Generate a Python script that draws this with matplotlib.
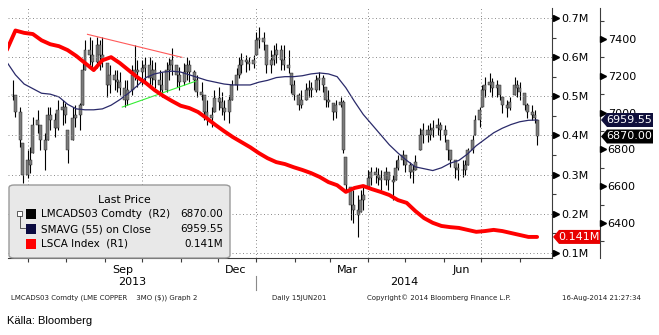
#!/bin/env python
import numpy as np
import pandas as pd
import matplotlib as mpl
mpl.use('Agg')
import matplotlib.pyplot as plt
import matplotlib.dates as mdates
import matplotlib.ticker as mticker
from matplotlib.transforms import blended_transform_factory
from matplotlib.patches import Polygon, FancyBboxPatch, Rectangle

#*******************************************************************************
# LME copper 3M (LMCADS03), every second trading day up to 15 Aug 2014
cu_high = [7175, 7095, 7030, 6835, 6795, 6815, 6975, 7015, 6935, 6890,
           7030, 7030, 7000, 7070, 7070, 7050, 6905, 7030, 7040, 7050,
           7270, 7395, 7410, 7395, 7410, 7395, 7410, 7270, 7260, 7230,
           7230, 7220, 7175, 7175, 7260, 7365, 7285, 7285, 7300, 7300,
           7285, 7275, 7230, 7220, 7275, 7295, 7350, 7260, 7250, 7270,
           7300, 7285, 7230, 7205, 7165, 7095, 7070, 7030, 7125, 7140,
           7110, 7070, 7095, 7175, 7240, 7300, 7325, 7315, 7300, 7315,
           7435, 7465, 7435, 7365, 7340, 7365, 7380, 7365, 7365, 7340,
           7215, 7175, 7105, 7125, 7160, 7175, 7165, 7205, 7220, 7205,
           7140, 7125, 7050, 7070, 7085, 7070, 6760, 6595, 6580, 6550,
           6580, 6595, 6690, 6705, 6705, 6700, 6690, 6705, 6675, 6660,
           6740, 6770, 6795, 6770, 6730, 6715, 6770, 6915, 6945, 6935,
           6945, 6960, 6970, 6950, 6935, 6850, 6795, 6740, 6725, 6740,
           6740, 6810, 6880, 6985, 7030, 7150, 7195, 7215, 7190, 7175,
           7150, 7085, 7070, 7085, 7195, 7175, 7165, 7105, 7050, 7040,
           7015, 6960]
cu_low = [7070, 6975, 6815, 6615, 6645, 6670, 6780, 6890, 6795, 6690,
          6850, 6905, 6865, 6905, 6935, 6945, 6725, 6850, 6920, 6905,
          7040, 7230, 7260, 7230, 7240, 7230, 7250, 7085, 7105, 7125,
          7110, 7095, 7030, 7040, 7095, 7175, 7140, 7150, 7165, 7140,
          7150, 7135, 7095, 7085, 7110, 7175, 7205, 7140, 7125, 7150,
          7175, 7165, 7125, 7085, 7070, 6960, 6935, 6920, 7005, 7015,
          6985, 6960, 6945, 7070, 7125, 7190, 7215, 7220, 7230, 7240,
          7315, 7350, 7340, 7215, 7215, 7260, 7270, 7230, 7230, 7215,
          7105, 7070, 7015, 7025, 7070, 7085, 7085, 7110, 7125, 7110,
          7030, 7030, 6960, 6970, 7030, 6780, 6580, 6415, 6400, 6325,
          6460, 6470, 6595, 6605, 6615, 6605, 6580, 6605, 6580, 6525,
          6635, 6690, 6715, 6675, 6645, 6615, 6690, 6795, 6835, 6840,
          6850, 6865, 6880, 6850, 6840, 6740, 6705, 6645, 6635, 6650,
          6660, 6715, 6780, 6880, 6920, 7030, 7085, 7110, 7085, 7085,
          7070, 7000, 6975, 7015, 7095, 7085, 7070, 7015, 6970, 6960,
          6945, 6825]
cu_close = [7095, 7005, 6850, 6660, 6740, 6715, 6935, 6960, 6850, 6795,
            6985, 6960, 6915, 7015, 7030, 6985, 6795, 6970, 6985, 7040,
            7230, 7340, 7315, 7275, 7365, 7315, 7285, 7150, 7205, 7175,
            7165, 7135, 7070, 7125, 7205, 7230, 7220, 7240, 7260, 7190,
            7230, 7175, 7150, 7125, 7230, 7260, 7285, 7205, 7165, 7220,
            7260, 7220, 7175, 7110, 7095, 7005, 6970, 6985, 7080, 7060,
            7025, 7005, 7070, 7150, 7205, 7260, 7285, 7275, 7265, 7285,
            7395, 7405, 7385, 7260, 7285, 7315, 7340, 7285, 7260, 7240,
            7150, 7095, 7040, 7070, 7125, 7135, 7125, 7175, 7190, 7150,
            7070, 7060, 7005, 7040, 7060, 6795, 6605, 6500, 6470, 6445,
            6525, 6550, 6645, 6675, 6660, 6645, 6635, 6675, 6635, 6625,
            6700, 6740, 6770, 6715, 6675, 6690, 6730, 6880, 6905, 6880,
            6905, 6915, 6935, 6905, 6880, 6795, 6740, 6700, 6690, 6690,
            6715, 6795, 6850, 6960, 7015, 7125, 7150, 7165, 7135, 7150,
            7095, 7040, 7025, 7060, 7150, 7135, 7110, 7040, 7005, 6985,
            6970, 6870.00]

# weekly (Friday) readings: 55 day moving average and LME stocks (LSCA, million t)
sma55 = [7275, 7205, 7155, 7130, 7105, 7100, 7085, 7045, 7020, 7015,
         7015, 7020, 7040, 7070, 7105, 7145, 7190, 7210, 7220, 7225,
         7220, 7205, 7190, 7175, 7165, 7155, 7150, 7150, 7150, 7165,
         7175, 7190, 7195, 7195, 7200, 7210, 7215, 7210, 7195, 7135,
         7060, 6990, 6935, 6880, 6825, 6780, 6740, 6705, 6695, 6685,
         6700, 6725, 6740, 6775, 6820, 6855, 6890, 6915, 6935, 6950,
         6958, 6959.55]
lsca = [0.618, 0.668, 0.662, 0.659, 0.643, 0.633, 0.628, 0.618, 0.603, 0.585,
        0.567, 0.592, 0.600, 0.585, 0.567, 0.549, 0.534, 0.516, 0.501, 0.488,
        0.476, 0.470, 0.460, 0.444, 0.427, 0.411, 0.396, 0.383, 0.370, 0.355,
        0.342, 0.332, 0.327, 0.319, 0.312, 0.304, 0.294, 0.281, 0.273, 0.256,
        0.266, 0.271, 0.263, 0.256, 0.248, 0.235, 0.228, 0.207, 0.189, 0.177,
        0.169, 0.166, 0.164, 0.159, 0.154, 0.156, 0.159, 0.156, 0.151, 0.146,
        0.141, 0.141]

# hand drawn triangle on the price panel
wedge_top = (['2013-08-18', '2013-11-02'], [7425, 7300])
wedge_bottom = (['2013-09-15', '2013-11-13'], [7030, 7170])

month_labels = ['Sep', 'Dec', 'Mar', 'Jun']
month_label_dates = ['2013-09-15', '2013-12-15', '2014-03-15', '2014-06-15']
quarter_dates = ['2013-07-01', '2013-10-01', '2014-01-01', '2014-04-01', '2014-07-01']
r1_ticks = [0.1, 0.2, 0.3, 0.4, 0.5, 0.6, 0.7]

W, H = 659, 335
GRID = dict(color='#8a8a8a', lw=0.7, ls=(0, (1, 2.6)), zorder=0.5)
SPINE = '#3c3c3c'
NAVY = '#2a2a6a'


def dn(d):
    return mdates.date2num(pd.Timestamp(d))


def fx(x):
    return x / W


def fy(y_top):
    return (H - y_top) / H


#*******************************************************************************
def value_tag(fig, axis, value, x0, x1, label, face):
    """ last value flag pointing at the price axis """
    yd = axis.transData.transform((0, value))[1]
    h = 7
    pts = [(x0, yd), (x0 + 6, yd + h), (x1, yd + h), (x1, yd - h), (x0 + 6, yd - h)]
    pts = [(px / W, py / H) for px, py in pts]
    fig.add_artist(Polygon(pts, closed=True, transform=fig.transFigure,
                           fc=face, ec='none', zorder=5))
    fig.text((x0 + 5 + x1) / 2 / W, yd / H, label, color='white', fontsize=8,
             ha='center', va='center', zorder=6)


def arrow_ticks(axis, xpos, values):
    tr = blended_transform_factory(axis.transAxes, axis.transData)
    axis.plot([xpos] * len(values), values, ls='none', marker='>', ms=4.2,
              color='black', transform=tr, clip_on=False, zorder=6)


#*******************************************************************************
def do_plot():
    fig = plt.figure(figsize=(W / 100, H / 100), dpi=100)
    ax = fig.add_axes([fx(8), 77 / H, 544 / W, 250 / H])
    axr = ax.twinx()

    # copper candles
    cu_dates = pd.bdate_range(end='2014-08-15', periods=len(cu_close), freq='2B')
    x = mdates.date2num(cu_dates.to_pydatetime())
    hi = np.array(cu_high, float)
    lo = np.array(cu_low, float)
    cl = np.array(cu_close, float)
    op = np.r_[cl[0], cl[:-1]]
    b_lo = np.maximum(np.minimum(op, cl), lo)
    b_hi = np.minimum(np.maximum(op, cl), hi)
    ax.vlines(x, lo, hi, color='black', lw=0.8, zorder=2)
    ax.bar(x, b_hi - b_lo, bottom=b_lo, width=2.4, color='#7c7c7c',
           edgecolor='#1a1a1a', lw=0.3, zorder=2.1)

    wk = pd.date_range(end='2014-08-15', periods=len(sma55), freq='W-FRI')
    ax.plot(mdates.date2num(wk.to_pydatetime()), sma55, color=NAVY, lw=0.9, zorder=3)

    ax.plot([dn(d) for d in wedge_top[0]], wedge_top[1], color='#ff5a5a', lw=0.8, zorder=3)
    ax.plot([dn(d) for d in wedge_bottom[0]], wedge_bottom[1], color='#33ee33', lw=0.8, zorder=3)

    wk2 = pd.date_range(end='2014-08-15', periods=len(lsca), freq='W-FRI')
    axr.plot(mdates.date2num(wk2.to_pydatetime()), lsca, color='#ff0000', lw=2.8,
             solid_capstyle='round', solid_joinstyle='round', zorder=4)

    # limits and grid
    ax.set_xlim(dn('2013-06-15'), dn('2014-08-27'))
    ax.set_ylim(6210, 7568)
    axr.set_ylim(0.0872, 0.7255)
    for d in quarter_dates:
        ax.axvline(dn(d), **GRID)
    for v in r1_ticks:
        axr.axhline(v, **GRID)

    # spines
    r2_pos = 1 + 48 / 544
    for s in ('left', 'top'):
        ax.spines[s].set_visible(False)
    ax.spines['right'].set_position(('axes', r2_pos))
    ax.spines['right'].set_color(SPINE)
    ax.spines['bottom'].set_color(SPINE)
    for s in ('left', 'top', 'bottom'):
        axr.spines[s].set_visible(False)
    axr.spines['right'].set_color(SPINE)

    # R2: copper price
    ax.yaxis.tick_right()
    ax.yaxis.set_major_locator(mticker.MultipleLocator(200))
    ax.yaxis.set_minor_locator(mticker.MultipleLocator(100))
    ax.yaxis.set_major_formatter(mticker.FormatStrFormatter('%d'))
    ax.tick_params(axis='y', which='major', length=0, pad=5.5, labelsize=8)
    ax.tick_params(axis='y', which='minor', length=3, width=0.8, color=SPINE)
    arrow_ticks(ax, r2_pos + 3 / 544, list(range(6400, 7401, 200)))

    # R1: LME stocks
    axr.set_yticks(r1_ticks)
    axr.yaxis.set_major_formatter(mticker.FuncFormatter(lambda v, p: '%.1fM' % v))
    axr.yaxis.set_minor_locator(mticker.MultipleLocator(0.05))
    axr.tick_params(axis='y', which='major', length=0, pad=6.5, labelsize=8)
    axr.tick_params(axis='y', which='minor', length=3, width=0.8, color=SPINE)
    arrow_ticks(axr, 1 + 3.5 / 544, r1_ticks)

    # dates
    ax.set_xticks([dn(d) for d in month_label_dates])
    ax.set_xticklabels(month_labels)
    ax.xaxis.set_minor_locator(mdates.MonthLocator())
    ax.tick_params(axis='x', which='major', length=0, pad=5, labelsize=8)
    ax.tick_params(axis='x', which='minor', length=3, width=0.8, color=SPINE)
    tb = blended_transform_factory(ax.transData, ax.transAxes)
    x0, x1 = ax.get_xlim()
    jan = dn('2014-01-01')
    ax.text((x0 + jan) / 2, -0.096, '2013', transform=tb, ha='center', va='center', fontsize=8)
    ax.text((jan + x1) / 2, -0.096, '2014', transform=tb, ha='center', va='center', fontsize=8)
    ax.plot([jan, jan], [-0.072, -0.128], transform=tb, color='#8a8a8a', lw=0.8, clip_on=False)

    # last value flags
    value_tag(fig, ax, sma55[-1], 601, 653, '%.2f' % sma55[-1], '#10103c')
    value_tag(fig, ax, cu_close[-1], 601, 653, '%.2f' % cu_close[-1], 'black')
    value_tag(fig, axr, lsca[-1], 553, 600, '%.3fM' % lsca[-1], '#e80000')

    # legend box
    fig.add_artist(FancyBboxPatch((fx(9), fy(258)), (230 - 9) / W, 73 / H,
                                  boxstyle='round,pad=0,rounding_size=0.008',
                                  transform=fig.transFigure, fc='#e8e8e8',
                                  ec='#9a9a9a', lw=1, zorder=5))
    fig.text(fx(124), fy(200), 'Last Price', fontsize=7.8, ha='center', va='center', zorder=6)
    rows = [('LMCADS03 Comdty  (R2)', '%.2f' % cu_close[-1], 'black'),
            ('SMAVG (55) on Close', '%.2f' % sma55[-1], '#0a0a40'),
            ('LSCA Index  (R1)', '%.3fM' % lsca[-1], '#ff0000')]
    for i, (name, val, col) in enumerate(rows):
        yt = 214 + 15 * i
        fig.add_artist(Rectangle((fx(26), fy(yt + 5)), 10 / W, 10 / H, transform=fig.transFigure,
                                 fc=col, ec='none', zorder=6))
        fig.text(fx(41), fy(yt), name, fontsize=7.5, ha='left', va='center', zorder=6)
        fig.text(fx(223), fy(yt), val, fontsize=7.5, ha='right', va='center', zorder=6)
    fig.add_artist(Rectangle((fx(17), fy(216)), 5 / W, 5 / H, transform=fig.transFigure,
                             fc='white', ec='#404040', lw=0.6, zorder=6))
    fig.add_artist(plt.Line2D([fx(19.5), fx(19.5), fx(25)], [fy(216), fy(228), fy(228)],
                              transform=fig.transFigure, color='#404040', lw=0.6, zorder=6))

    # footer
    foot = dict(fontsize=5, va='center', color='#202020')
    fig.text(fx(11), fy(298), 'LMCADS03 Comdty (LME COPPER    3MO ($)) Graph 2', **foot)
    fig.text(fx(272), fy(298), 'Daily 15JUN201', **foot)
    fig.text(fx(367), fy(298), 'Copyright\u00a9 2014 Bloomberg Finance L.P.', **foot)
    fig.text(fx(562), fy(298), '16-Aug-2014 21:27:34', **foot)
    fig.text(fx(7), fy(321), 'Källa: Bloomberg', fontsize=8, family='Liberation Sans', va='center')

    fig.savefig('out.png', dpi=100)


if __name__ == "__main__":
    do_plot()
